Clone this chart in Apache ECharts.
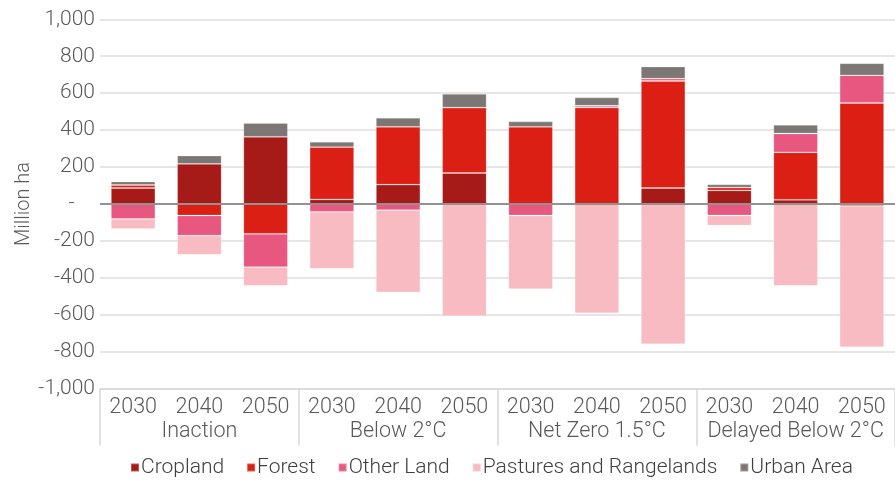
<!DOCTYPE html>
<html>
<head>
<meta charset="utf-8">
<script src="https://cdn.jsdelivr.net/npm/echarts@6/dist/echarts.min.js"></script>
<style>
html,body{margin:0;padding:0;background:#fff;}
#c{width:895px;height:480px;}
</style>
</head>
<body>
<div id="c"></div>
<script>
const years = ['2030','2040','2050','2030','2040','2050','2030','2040','2050','2030','2040','2050'];
const scenarios = ['Inaction','Below 2°C','Net Zero 1.5°C','Delayed Below 2°C'];
const yTicks = {min: -1000, max: 1000, interval: 200};

const cropland = [87, 217, 364, 25, 105, 168, 0, 0, 87, 74, 23, -10];
const forest   = [16, -62, -161, 283, 313, 354, 418, 522, 579, 15, 257, 547];
const otherLand = [-80, -109, -180, -42, -33, 0, -62, 10, 13, -62, 102, 150];
const pastures = [-55, -103, -101, -308, -445, -607, -398, -591, -758, -54, -442, -765];
const urban    = [19, 45, 74, 29, 49, 74, 29, 45, 65, 17, 47, 65];

const seriesDefs = [
  {name: 'Cropland', data: cropland, color: '#A61A18'},
  {name: 'Forest', data: forest, color: '#DB1F15'},
  {name: 'Other Land', data: otherLand, color: '#E85780'},
  {name: 'Pastures and Rangelands', data: pastures, color: '#F7BBC1'},
  {name: 'Urban Area', data: urban, color: '#7C7775'}
];

const FONT = 'Roboto';
const chart = echarts.init(document.getElementById('c'));

const series = seriesDefs.map((s, i) => ({
  name: s.name,
  type: 'bar',
  stack: 'total',
  barWidth: '67%',
  data: s.data,
  itemStyle: {color: s.color, borderColor: 'rgba(255,255,255,0.28)', borderWidth: 0.8},
  emphasis: {disabled: true}
}));
series[series.length - 1].markLine = {
  silent: true,
  symbol: 'none',
  label: {show: false},
  lineStyle: {color: '#929292', width: 2, type: 'solid'},
  data: [{yAxis: 0}]
};

chart.setOption({
  animation: false,
  textStyle: {fontFamily: FONT},
  grid: {left: 100, right: -5, top: 19.3, bottom: 91.2, containLabel: false},
  legend: {
    left: 125, top: 452,
    itemWidth: 8, itemHeight: 8, itemGap: 22,
    icon: 'rect',
    textStyle: {fontFamily: FONT, fontSize: 21, fontWeight: 300, color: '#404040', padding: [0,0,0,-3]},
    data: seriesDefs.map(s => s.name)
  },
  xAxis: [
    {
      type: 'category',
      data: years,
      position: 'bottom',
      axisLine: {show: false},
      axisTick: {show: false},
      axisLabel: {interval: 0, margin: 8, fontFamily: FONT, fontSize: 21.5, fontWeight: 300, color: '#595959'}
    },
    {
      type: 'category',
      data: scenarios,
      position: 'bottom',
      offset: 0,
      axisLine: {show: true, onZero: false, lineStyle: {color: '#d9d9d9', width: 1.5}},
      axisTick: {show: true, length: 57, interval: 0, lineStyle: {color: '#d9d9d9', width: 1.5}},
      axisLabel: {interval: 0, margin: 32, fontFamily: FONT, fontSize: 21.5, fontWeight: 300, color: '#595959'}
    }
  ],
  yAxis: {
    type: 'value',
    min: yTicks.min, max: yTicks.max, interval: yTicks.interval,
    name: 'Million ha',
    nameLocation: 'middle',
    nameGap: 66,
    nameMoveOverlap: false,
    nameTextStyle: {fontFamily: FONT, fontSize: 20, fontWeight: 300, color: '#595959'},
    axisLine: {show: false},
    axisTick: {show: false},
    splitLine: {show: true, lineStyle: {color: '#dedede', width: 1.5}},
    axisLabel: {
      margin: 5,
      fontFamily: FONT, fontSize: 21, fontWeight: 300, color: '#595959',
      formatter: v => v === 0 ? '-    ' : v.toLocaleString('en-US')
    }
  },
  series: series
});
</script>
</body>
</html>
